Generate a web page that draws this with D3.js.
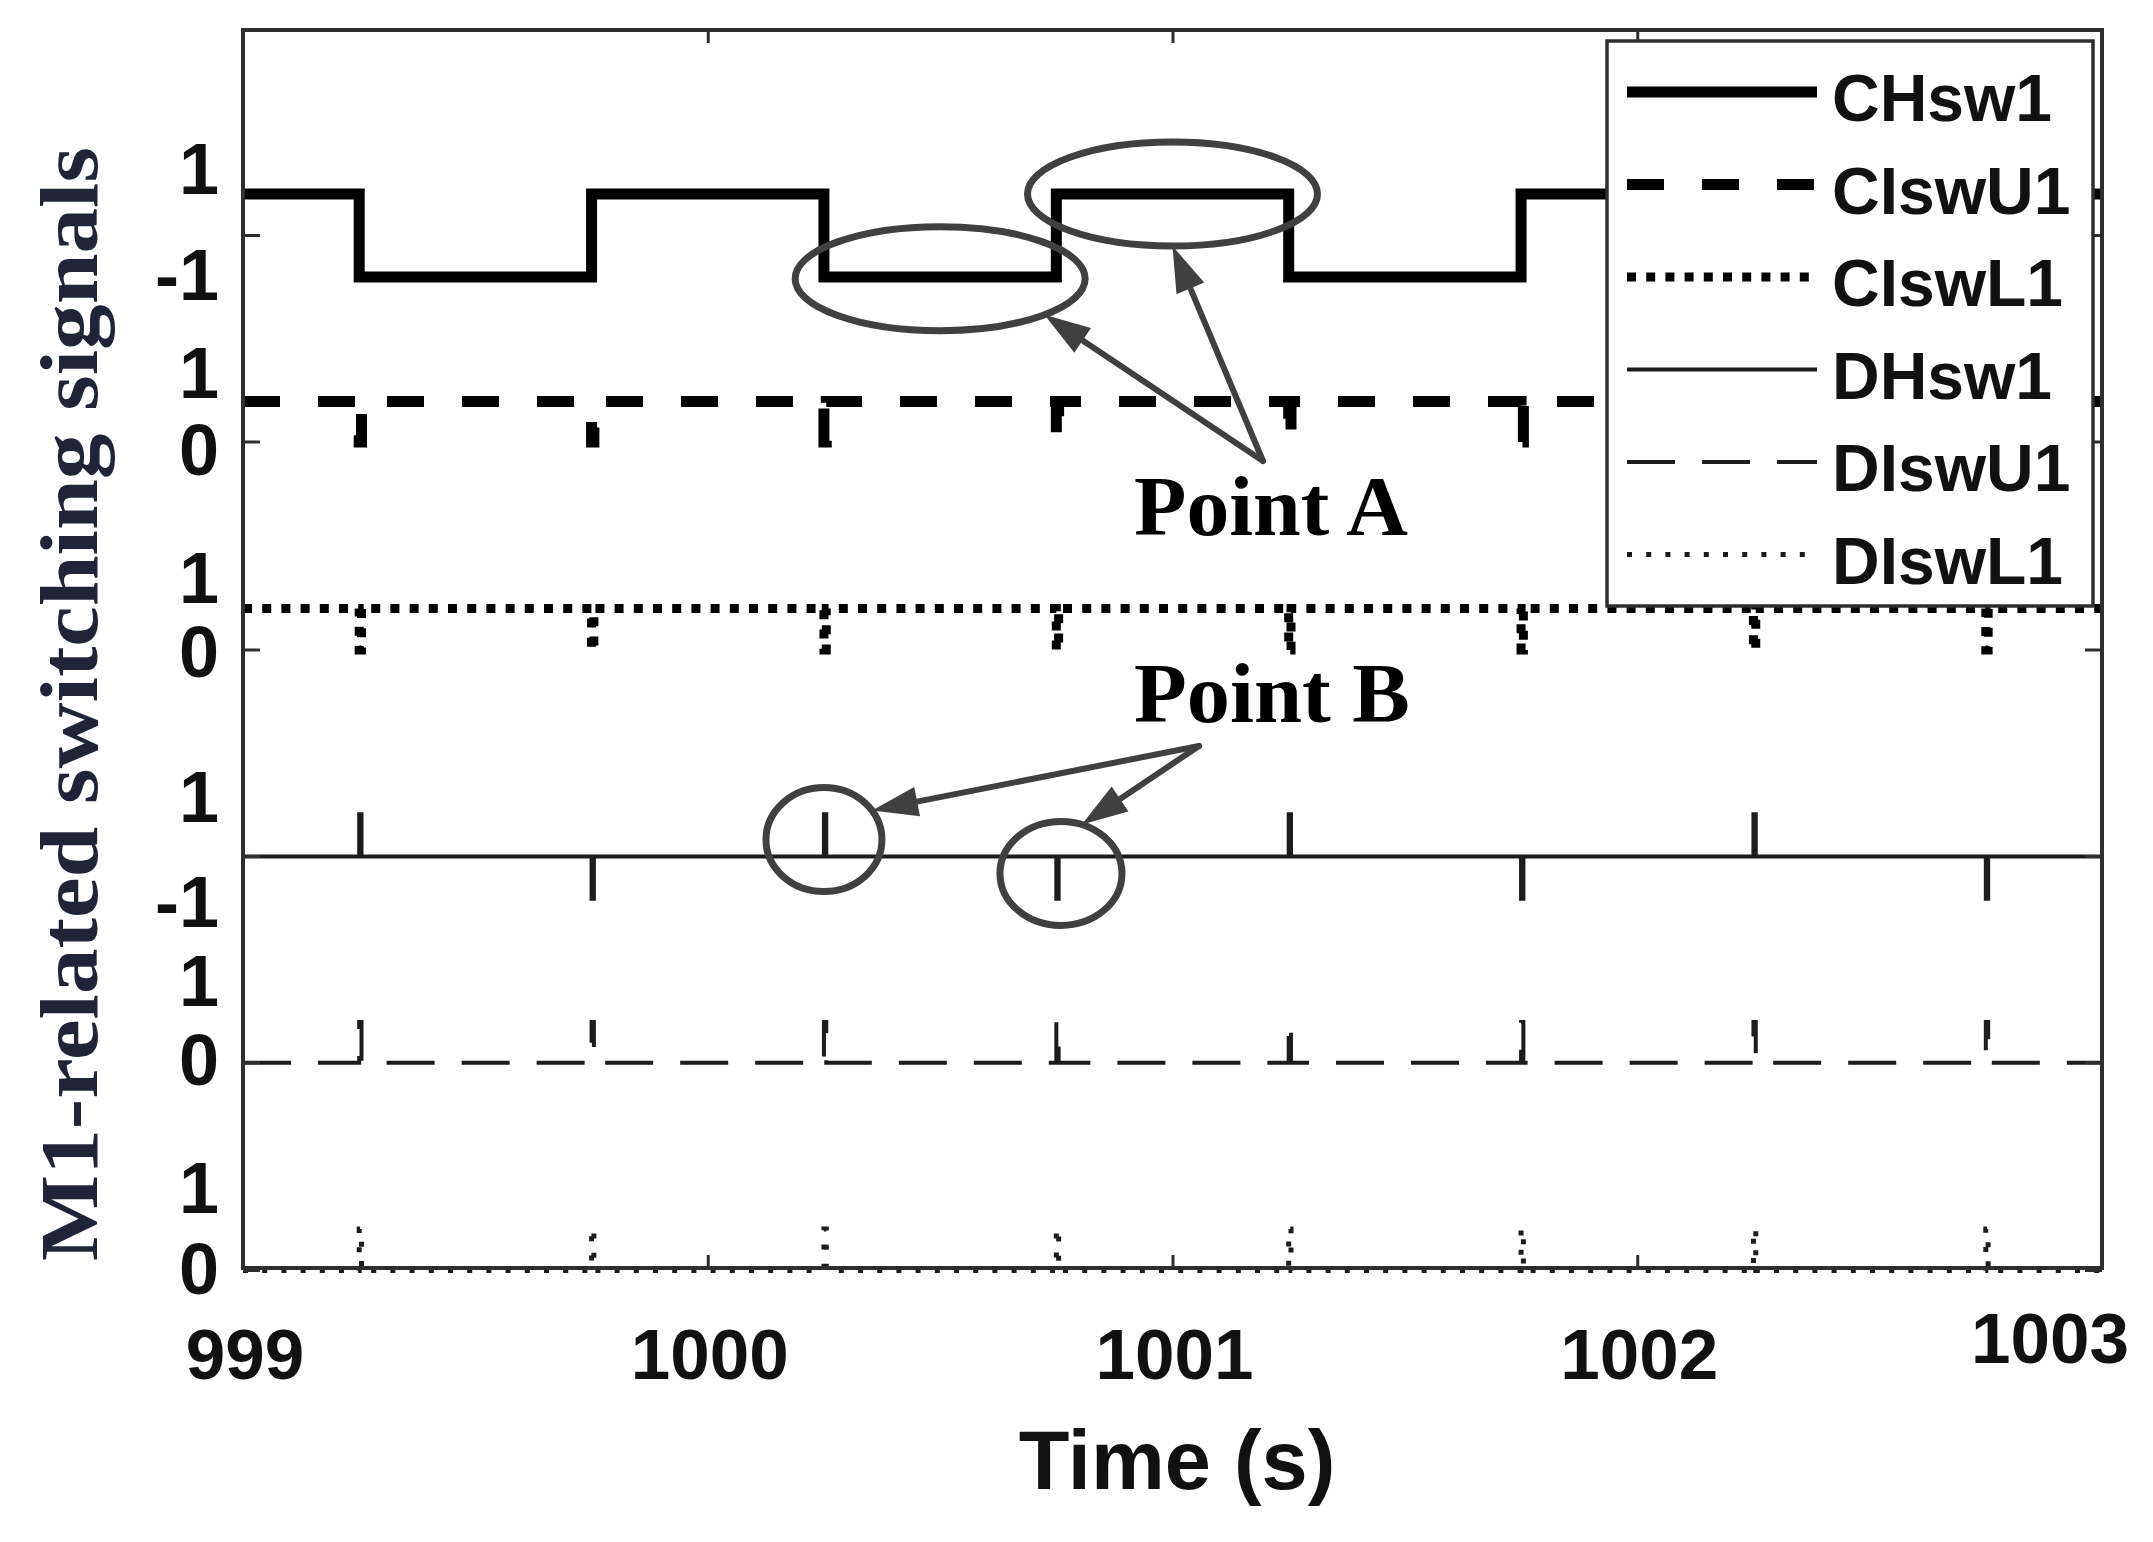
<!DOCTYPE html>
<html><head><meta charset="utf-8">
<script src="https://cdn.jsdelivr.net/npm/d3@7"></script>
<style>html,body{margin:0;padding:0;background:#fff}svg{display:block}</style>
</head><body>
<svg id="chart" width="2153" height="1542"></svg>
<script>
// ---------------- data ----------------
const xTicks = [999, 1000, 1001, 1002, 1003];
const xTickLabels = ["999", "1000", "1001", "1002", "1003"];
const switchTimes = [999.25, 999.75, 1000.25, 1000.75, 1001.25, 1001.75, 1002.25, 1002.75];
const deadTime = 0.005;
const seriesNames = ["CHsw1", "CIswU1", "CIswL1", "DHsw1", "DIswU1", "DIswL1"];
// CHsw1: level held in each interval between switching instants
const CHsw1Levels = [1, -1, 1, -1, 1, -1, 1, -1, 1];
// pulse-type signals: base level + level during the short pulse at each switching instant
const CIswU1Base = 1, CIswU1Pulse = [0, 0, 0, 0, 0, 0, 0, 0];
const CIswL1Base = 1, CIswL1Pulse = [0, 0, 0, 0, 0, 0, 0, 0];
const DHsw1Base = 0, DHsw1Pulse = [1, -1, 1, -1, 1, -1, 1, -1];
const DIswU1Base = 0, DIswU1Pulse = [1, 1, 1, 1, 1, 1, 1, 1];
const DIswL1Base = 0, DIswL1Pulse = [1, 1, 1, 1, 1, 1, 1, 1];
const yTickLabels = [["1", "-1"], ["1", "0"], ["1", "0"], ["1", "-1"], ["1", "0"], ["1", "0"]];
const yTickValues = [[1, -1], [1, 0], [1, 0], [1, -1], [1, 0], [1, 0]];
const xLabel = "Time (s)";
const yLabel = "M1-related switching signals";

// ---------------- layout / style ----------------
const plot = {left: 243, right: 2102, top: 30, bottom: 1268};
const panelLayout = [
  {zero: 235.5, unit: 41.5, upShift: -26, lowShift: -3},
  {zero: 442, unit: 40.5, upShift: -29.5, lowShift: 7},
  {zero: 650, unit: 41.5, upShift: -31.5, lowShift: 1},
  {zero: 856.5, unit: 42.25, upShift: -18, lowShift: 2},
  {zero: 1062.7, unit: 40.7, upShift: -42, lowShift: -4},
  {zero: 1270.5, unit: 41.5, upShift: -42, lowShift: -2.5}
];
const styles = [
  {w: 11, dash: null, color: "#000"},
  {w: 11, dash: "37,38", color: "#000"},
  {w: 9, dash: "9,10.2", color: "#000"},
  {w: 4, dash: null, color: "#1c1c1c"},
  {w: 4, dash: "48,27", color: "#1c1c1c"},
  {w: 5, dash: "5,14.2", color: "#1c1c1c"}
];
const sans = "'Liberation Sans', Arial, Helvetica, sans-serif";
const serif = "'Liberation Serif', 'Times New Roman', Times, serif";

const svg = d3.select("#chart");
const x = d3.scaleLinear().domain([999, 1003]).range([plot.left, plot.right]);
const yScales = panelLayout.map(p => d3.scaleLinear().domain([0, 1]).range([p.zero, p.zero - p.unit]));

function stepPoints(levels) {
  const pts = [[999, levels[0]]];
  switchTimes.forEach((t, i) => { pts.push([t, levels[i]]); pts.push([t, levels[i + 1]]); });
  pts.push([1003, levels[levels.length - 1]]);
  return pts;
}
function pulsePoints(base, pulse) {
  const pts = [[999, base]];
  switchTimes.forEach((t, i) => {
    pts.push([t, base], [t, pulse[i]], [t + deadTime, pulse[i]], [t + deadTime, base]);
  });
  pts.push([1003, base]);
  return pts;
}
const seriesPoints = [
  stepPoints(CHsw1Levels),
  pulsePoints(CIswU1Base, CIswU1Pulse),
  pulsePoints(CIswL1Base, CIswL1Pulse),
  pulsePoints(DHsw1Base, DHsw1Pulse),
  pulsePoints(DIswU1Base, DIswU1Pulse),
  pulsePoints(DIswL1Base, DIswL1Pulse)
];

// ---------------- series ----------------
const gLines = svg.append("g");
seriesPoints.forEach((pts, i) => {
  const ys = yScales[i];
  const line = d3.line().x(d => x(d[0])).y(d => ys(d[1]));
  gLines.append("path")
    .attr("d", line(pts))
    .attr("fill", "none")
    .attr("stroke", styles[i].color)
    .attr("stroke-width", styles[i].w)
    .attr("stroke-linejoin", "miter")
    .attr("stroke-linecap", "butt")
    .attr("stroke-dasharray", styles[i].dash);
});

// ---------------- frame & axes ----------------
svg.append("rect")
  .attr("x", plot.left).attr("y", plot.top)
  .attr("width", plot.right - plot.left).attr("height", plot.bottom - plot.top)
  .attr("fill", "none").attr("stroke", "#2e2e2e").attr("stroke-width", 4);

const axB = svg.append("g").attr("transform", `translate(0,${plot.bottom})`)
  .call(d3.axisBottom(x).tickValues(xTicks).tickSize(-13).tickFormat(""));
const axT = svg.append("g").attr("transform", `translate(0,${plot.top})`)
  .call(d3.axisTop(x).tickValues(xTicks).tickSize(-13).tickFormat(""));
[axB, axT].forEach(a => {
  a.select(".domain").remove();
  a.selectAll(".tick line").attr("stroke", "#2e2e2e").attr("stroke-width", 3);
});

// y ticks at each panel zero (left and right)
panelLayout.forEach((p, i) => {
  const yy = yScales[i](0);
  svg.append("line").attr("x1", plot.left).attr("x2", plot.left + 17).attr("y1", yy).attr("y2", yy)
    .attr("stroke", "#2e2e2e").attr("stroke-width", 3);
  svg.append("line").attr("x1", plot.right).attr("x2", plot.right - 17).attr("y1", yy).attr("y2", yy)
    .attr("stroke", "#2e2e2e").attr("stroke-width", 3);
});

// x tick labels
svg.append("g").selectAll("text").data(xTicks).join("text")
  .attr("x", (d, i) => x(d) + (i === xTicks.length - 1 ? -52 : 2))
  .attr("y", (d, i) => i === xTicks.length - 1 ? 1363 : 1379)
  .attr("text-anchor", "middle")
  .attr("font-family", sans).attr("font-weight", "bold").attr("font-size", 71)
  .attr("fill", "#111")
  .text((d, i) => xTickLabels[i]);

// y tick labels
panelLayout.forEach((p, i) => {
  yTickValues[i].forEach((v, j) => {
    const cy = yScales[i](v) + (j === 0 ? p.upShift : p.lowShift);
    svg.append("text")
      .attr("x", 219).attr("y", cy + 26)
      .attr("text-anchor", "end")
      .attr("font-family", sans).attr("font-weight", "bold").attr("font-size", 72)
      .attr("fill", "#111")
      .text(yTickLabels[i][j]);
  });
});

// axis titles
svg.append("text")
  .attr("x", 1177).attr("y", 1489).attr("text-anchor", "middle")
  .attr("font-family", sans).attr("font-weight", "bold").attr("font-size", 83)
  .attr("fill", "#111").text(xLabel);
svg.append("text")
  .attr("transform", "translate(97,704) rotate(-90)")
  .attr("text-anchor", "middle")
  .attr("font-family", serif).attr("font-weight", "bold").attr("font-size", 82)
  .attr("textLength", 1114).attr("lengthAdjust", "spacingAndGlyphs")
  .attr("fill", "#1f2437").text(yLabel);

// ---------------- legend ----------------
const lg = svg.append("g");
lg.append("rect").attr("x", 1607).attr("y", 41).attr("width", 486).attr("height", 565)
  .attr("fill", "#fff").attr("stroke", "#2e2e2e").attr("stroke-width", 3.5);
seriesNames.forEach((name, i) => {
  const ry = 92 + i * 92.5;
  lg.append("line").attr("x1", 1627).attr("x2", 1817).attr("y1", ry).attr("y2", ry)
    .attr("stroke", styles[i].color).attr("stroke-width", styles[i].w)
    .attr("stroke-dasharray", styles[i].dash).attr("stroke-linecap", "butt");
  lg.append("text").attr("x", 1832).attr("y", ry + 29)
    .attr("font-family", sans).attr("font-weight", "bold").attr("font-size", 66)
    .attr("fill", "#111").text(name);
});

// ---------------- annotations ----------------
const annotations = [
  {label: "Point A", textX: 1134, textY: 535, textLen: 274, origin: [1263, 461],
   marks: [{t: 1000.5, panel: 0, v: -1.04, rx: 145, ry: 52, tip: 44},
           {t: 1001.0, panel: 0, v: 1, rx: 145, ry: 52, tip: 90}]},
  {label: "Point B", textX: 1134, textY: 722, textLen: 276, origin: [1199, 746],
   marks: [{t: 1000.25, panel: 3, v: 0.4, rx: 58, ry: 52, tip: -34},
           {t: 1000.76, panel: 3, v: -0.4, rx: 61, ry: 52, tip: -70}]}
];
const ann = svg.append("g");
const annColor = "#404040";
annotations.forEach(a => {
  a.marks.forEach(m => {
    const cx = x(m.t), cy = yScales[m.panel](m.v);
    ann.append("ellipse").attr("cx", cx).attr("cy", cy).attr("rx", m.rx).attr("ry", m.ry)
      .attr("fill", "none").attr("stroke", annColor).attr("stroke-width", 7);
    const th = m.tip * Math.PI / 180;
    const tx = cx + m.rx * Math.cos(th), ty = cy + m.ry * Math.sin(th);
    const [ox, oy] = a.origin;
    const dx = tx - ox, dy = ty - oy, L = Math.hypot(dx, dy);
    const ux = dx / L, uy = dy / L, hl = 46, hw = 15;
    const bx = tx - ux * hl, by = ty - uy * hl;
    ann.append("line").attr("x1", ox).attr("y1", oy).attr("x2", bx + ux * 4).attr("y2", by + uy * 4)
      .attr("stroke", annColor).attr("stroke-width", 6).attr("stroke-linecap", "round");
    ann.append("path")
      .attr("d", `M${tx},${ty}L${bx - uy * hw},${by + ux * hw}L${bx + uy * hw},${by - ux * hw}Z`)
      .attr("fill", annColor);
  });
  ann.append("text").attr("x", a.textX).attr("y", a.textY)
    .attr("font-family", serif).attr("font-weight", "bold").attr("font-size", 84)
    .attr("textLength", a.textLen).attr("lengthAdjust", "spacingAndGlyphs")
    .attr("fill", "#000").text(a.label);
});
</script>
</body></html>
